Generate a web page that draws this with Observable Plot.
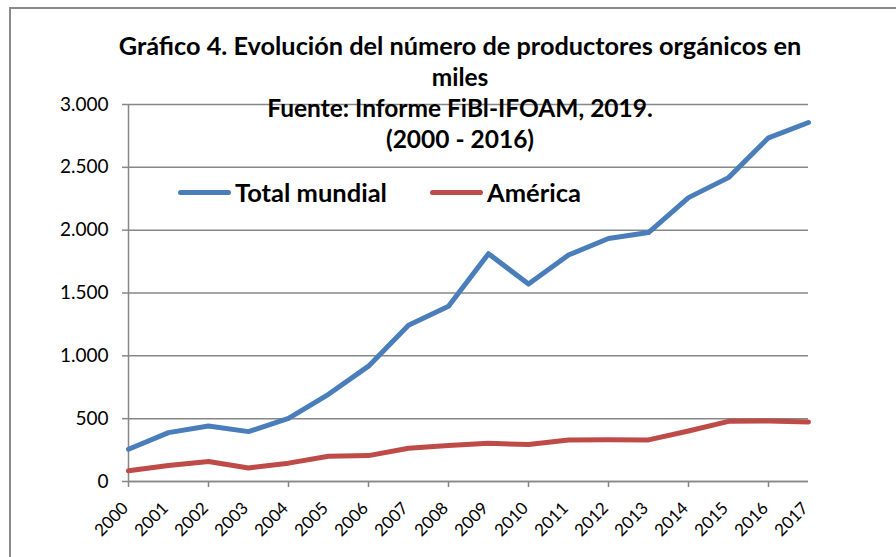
<!DOCTYPE html>
<html>
<head>
<meta charset="utf-8">
<script src="https://cdn.jsdelivr.net/npm/d3@7"></script>
<script src="https://cdn.jsdelivr.net/npm/@observablehq/plot@0.6"></script>
<style>
  html, body { margin: 0; padding: 0; background: #fff; overflow: hidden; }
  #wrap { position: relative; width: 896px; height: 557px; overflow: hidden; font-family: Lato, "Open Sans", sans-serif; }
  #border { position: absolute; left: 9px; top: 7px; width: 1200px; height: 1200px; border: 2px solid #8a8a8a; box-sizing: border-box; }
  #chart { position: absolute; left: 0; top: 0; }
  #title { position: absolute; left: 0; top: 30px; width: 920px; text-align: center; font-weight: 700; font-size: 24.5px; line-height: 31px; color: #000; }
  #title .l1 { font-size: 25.3px; }
  .leg { position: absolute; top: 177px; display: flex; align-items: center; font-weight: 700; font-size: 25.5px; color: #000; white-space: nowrap; }
  .leg .sw { display: inline-block; width: 53px; height: 5px; border-radius: 3px; margin-right: 4px; }
</style>
</head>
<body>
<div id="wrap">
  <div id="border"></div>
  <div id="chart"></div>
  <div id="title"></div>
  <div id="legend"></div>
</div>
<script>
const years = [2000, 2001, 2002, 2003, 2004, 2005, 2006, 2007, 2008, 2009, 2010, 2011, 2012, 2013, 2014, 2015, 2016, 2017];
const totalMundial = [257, 389, 442, 397, 503, 694, 918, 1244, 1394, 1813, 1571, 1802, 1934, 1981, 2259, 2418, 2735, 2857];
const america = [85, 127, 159, 108, 146, 201, 206, 265, 286, 304, 294, 331, 333, 331, 402, 479, 481, 474];
const yTicks = [0, 500, 1000, 1500, 2000, 2500, 3000];
const xTickMarks = [2000, 2002, 2004, 2006, 2008, 2010, 2012, 2014, 2016];
const seriesNames = ["Total mundial", "América"];
const seriesColors = ["#4A7EBB", "#BE4B48"];
const titleLines = [
  "Gráfico 4. Evolución del número de productores orgánicos en",
  "miles",
  "Fuente: Informe FiBl-IFOAM, 2019.",
  "(2000 - 2016)"
];

const data = [];
years.forEach((yr, i) => {
  data.push({year: yr, value: totalMundial[i], serie: seriesNames[0]});
});
years.forEach((yr, i) => {
  data.push({year: yr, value: america[i], serie: seriesNames[1]});
});

const gridColor = "#878787";
const fmt = d => d3.format(",")(d).replace(/,/g, ".");

const chart = Plot.plot({
  width: 896,
  height: 557,
  marginLeft: 128,
  marginRight: 88,
  marginTop: 104,
  marginBottom: 76,
  style: { fontFamily: "Lato, 'Open Sans', sans-serif", color: "#000", background: "transparent", overflow: "visible" },
  x: { domain: [2000, 2017] },
  y: { domain: [0, 3000] },
  color: { domain: seriesNames, range: seriesColors },
  marks: [
    Plot.gridY(yTicks, { stroke: gridColor, strokeOpacity: 1, strokeWidth: 1.5 }),
    Plot.axisY(yTicks, { tickSize: 6, tickPadding: 14, tickFormat: fmt, label: null, stroke: gridColor, strokeWidth: 1.5, fontSize: 19, fill: "#000" }),
    Plot.axisX(xTickMarks, { tickSize: 6, tickFormat: () => "", label: null, stroke: gridColor, strokeWidth: 1.5 }),
    Plot.axisX(years, { tickSize: 0, tickPadding: 24, dx: -3, tickRotate: -45, tickFormat: d => String(d), label: null, fontSize: 17, fill: "#000" }),
    Plot.ruleX([2000], { stroke: gridColor, strokeWidth: 1.5 }),
    Plot.ruleY([0], { stroke: gridColor, strokeWidth: 1.5 }),
    Plot.line(data, { x: "year", y: "value", z: "serie", stroke: "serie", strokeWidth: 5, strokeLinejoin: "round", strokeLinecap: "round" })
  ]
});
document.getElementById("chart").appendChild(chart);

document.getElementById("title").innerHTML = titleLines.map((t, i) => `<div class="l${i + 1}">${t}</div>`).join("");

const legendLefts = [178, 430];
const leg = document.getElementById("legend");
seriesNames.forEach((name, i) => {
  const d = document.createElement("div");
  d.className = "leg";
  d.style.left = legendLefts[i] + "px";
  d.innerHTML = `<span class="sw" style="background:${seriesColors[i]}"></span><span>${name}</span>`;
  leg.appendChild(d);
});
</script>
</body>
</html>
